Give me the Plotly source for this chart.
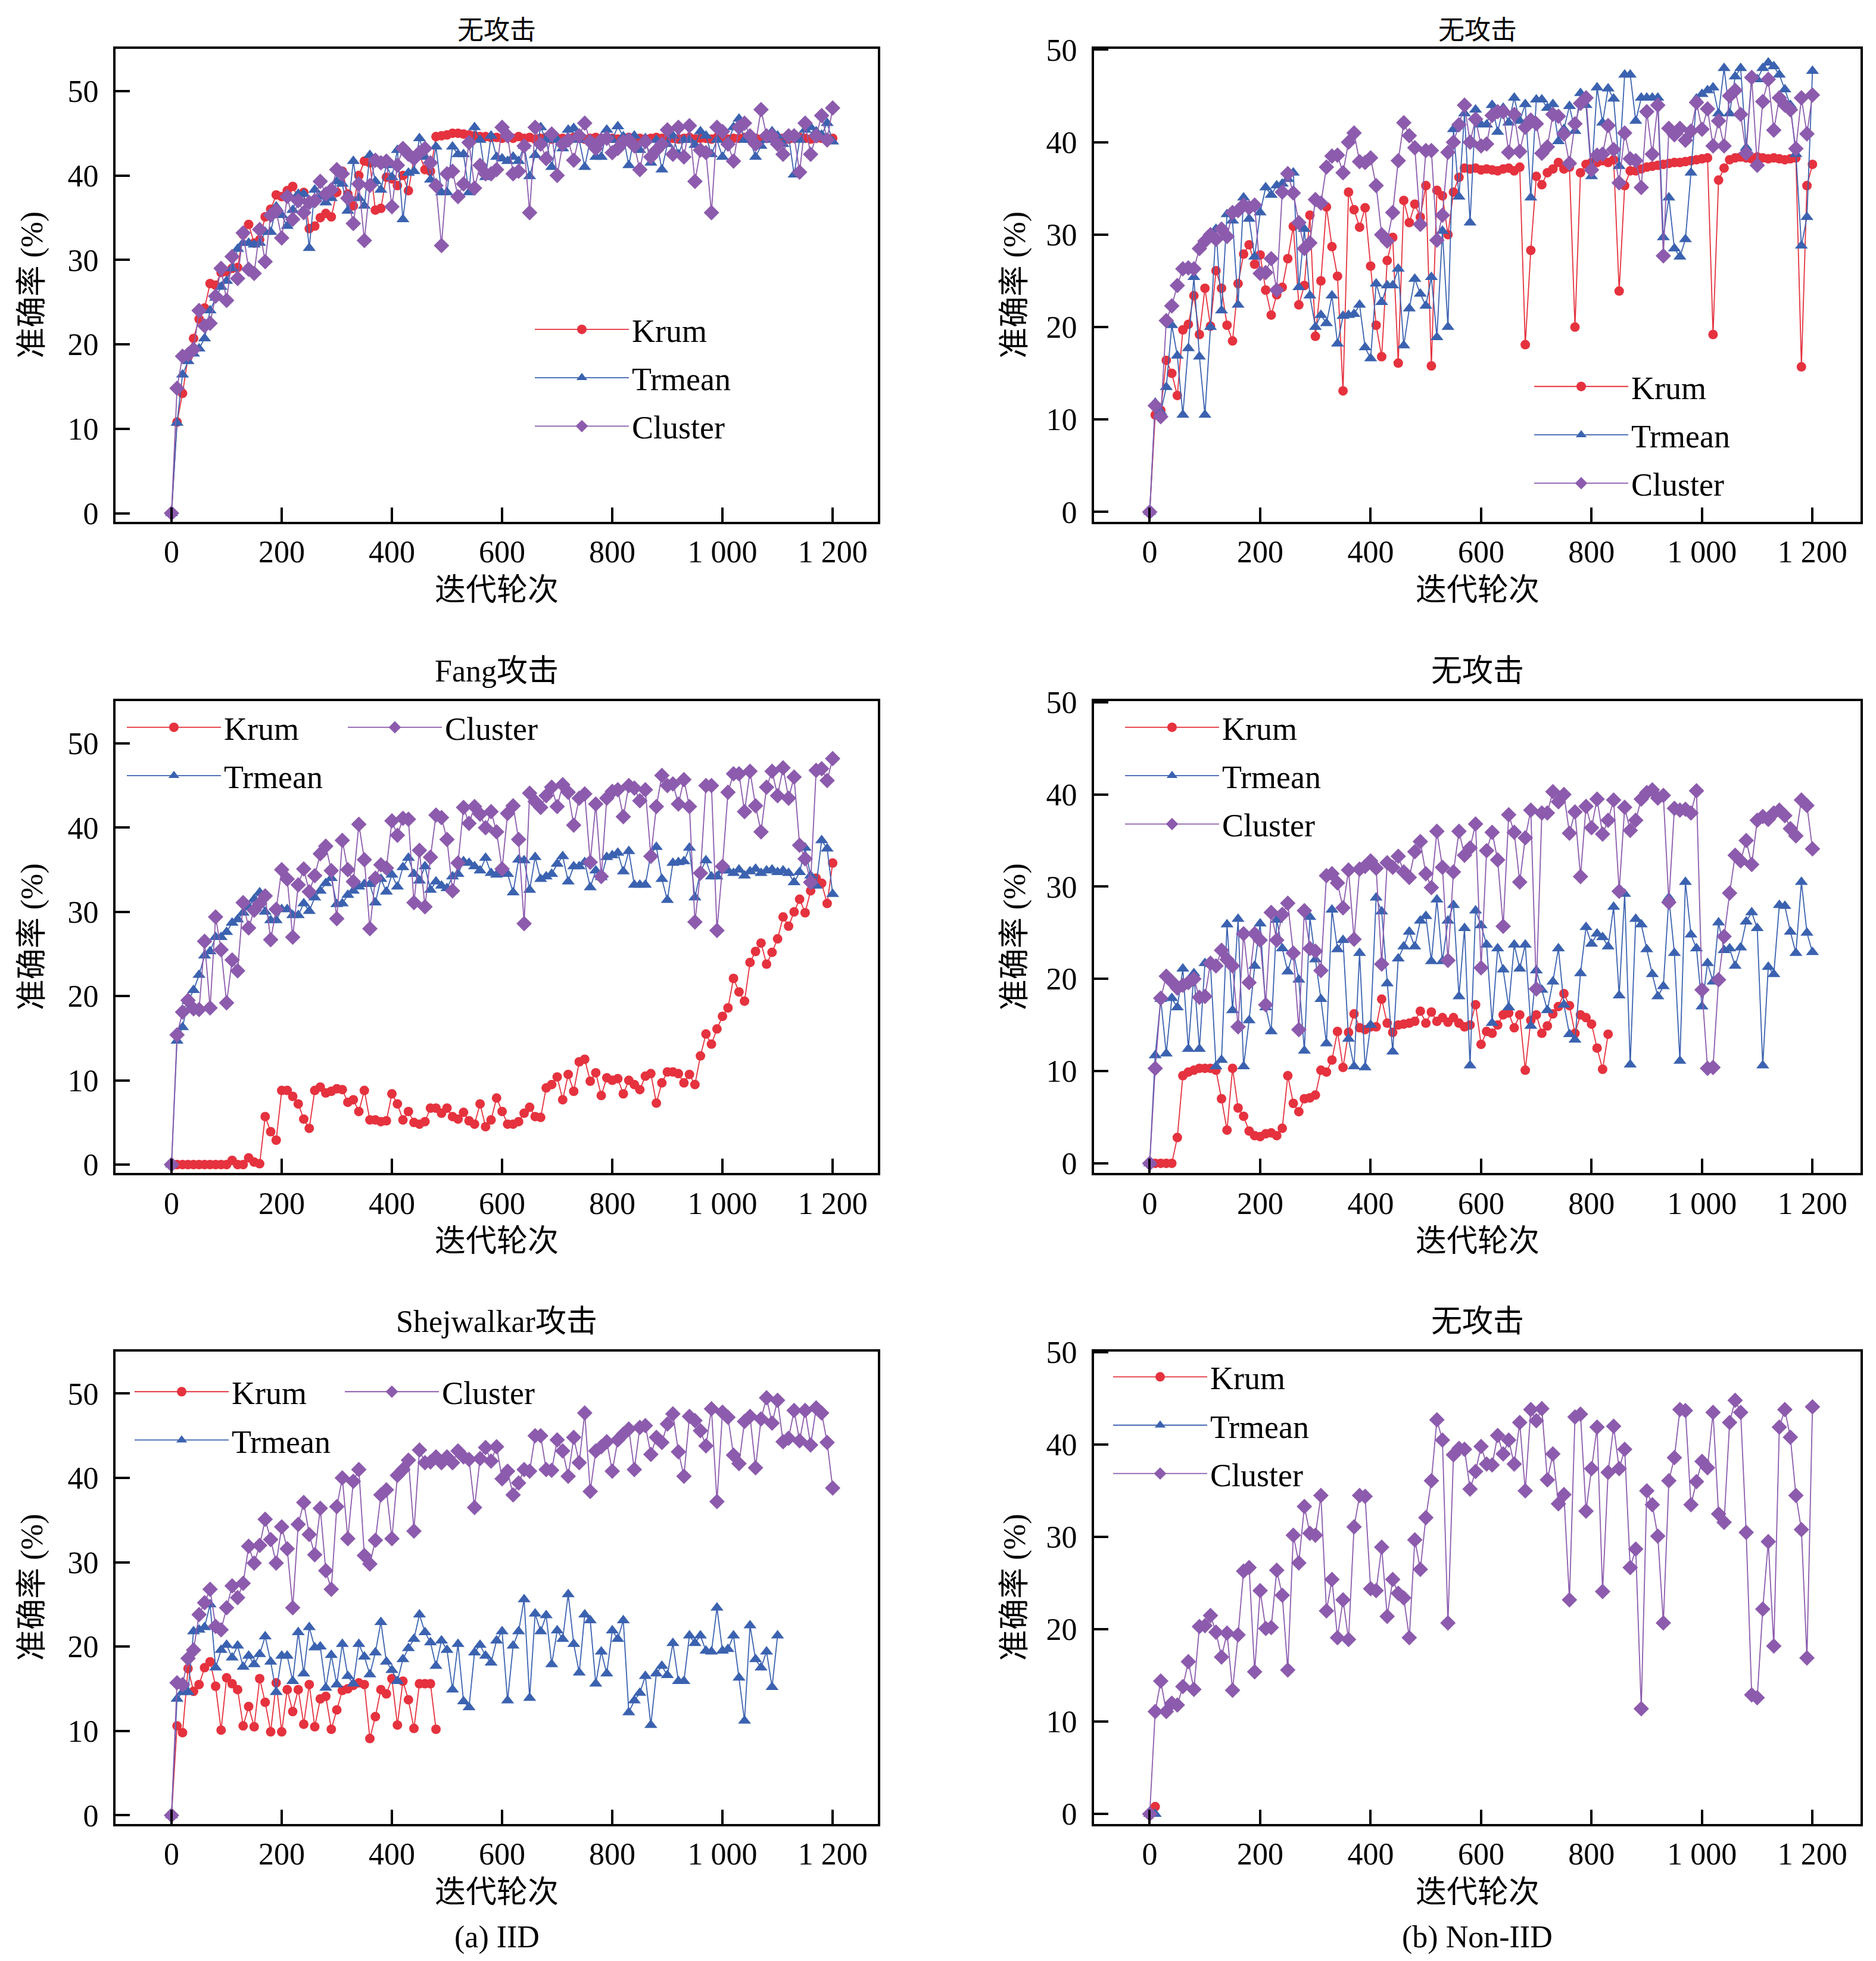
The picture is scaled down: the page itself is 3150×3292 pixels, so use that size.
import plotly.graph_objects as go

W, H = 3150, 3292
# the photographed page puts the figure ~31 px lower and squeezes it a little
# vertically; positions below are given in reference pixels and mapped back
OFFX, OFFY, SY = 4, 31, 0.989

# iteration axis, one point every 10 rounds
x_all = list(range(0, 1201, 10))
x_short = [0, 10]

# (a) IID - no attack
krum_a1 = [0, 10.8, 14.2, 18.5, 20.7, 23.0, 24.3, 27.2, 27.0, 28.5, 28.6,
           29.0, 29.1, 33.0, 34.2, 32.0, 32.4, 35.1, 36.0, 37.7, 37.5,
           38.2, 38.7, 37.3, 38.0, 33.7, 34.0, 35.0, 35.5, 35.1, 38.0,
           40.5, 37.8, 36.4, 40.0, 41.7, 41.5, 35.9, 36.1, 39.8, 39.6,
           38.8, 40.0, 38.2, 42.0, 42.5, 40.7, 40.5, 44.6, 44.7, 44.8,
           45.0, 45.0, 44.9, 44.8, 44.7, 44.6, 44.6, 44.5, 44.5, 44.4,
           44.5, 44.4, 44.6, 44.4, 44.5, 44.3, 44.4, 44.5, 44.3, 44.4,
           44.4, 44.3, 44.5, 44.4, 44.3, 44.4, 44.5, 44.3, 44.4, 44.4,
           44.3, 44.4, 44.5, 44.3, 44.4, 44.3, 44.4, 44.5, 44.4, 44.3,
           44.4, 44.3, 44.4, 44.5, 44.3, 44.4, 44.4, 44.3, 44.5, 44.4,
           44.3, 44.4, 44.4, 44.5, 44.3, 44.4, 44.3, 44.4, 44.4, 44.3,
           44.4, 44.3, 44.4, 44.5, 44.4, 44.3, 44.4, 44.4, 44.3, 44.4]
trmean_a1 = [0, 10.7, 16.4, 18.0, 18.9, 19.5, 20.7, 24.0, 25.5, 26.8, 27.5,
             29.0, 31.3, 32.0, 32.0, 31.8, 32.0, 33.3, 33.3, 36.3, 35.3,
             34.0, 35.9, 37.8, 37.8, 31.4, 38.3, 37.5, 36.8, 37.3, 39.3,
             39.0, 35.8, 41.7, 37.3, 36.4, 42.4, 39.3, 38.3, 41.2, 39.8,
             43.0, 34.8, 40.3, 40.5, 44.4, 42.2, 39.5, 43.4, 38.0, 38.0,
             43.4, 42.5, 42.5, 38.0, 45.7, 44.2, 39.8, 44.7, 42.2, 42.0,
             41.7, 42.2, 41.7, 43.5, 39.9, 42.4, 45.7, 44.2, 41.0, 44.2,
             43.2, 45.4, 45.6, 44.2, 41.0, 44.2, 42.2, 42.2, 45.4, 44.2,
             45.8, 44.6, 41.2, 44.7, 43.0, 44.4, 41.5, 44.2, 40.7, 43.7,
             44.7, 42.5, 44.2, 44.2, 43.6, 45.2, 44.7, 42.5, 44.2, 42.2,
             44.0, 45.7, 46.7, 44.2, 44.2, 42.2, 43.5, 44.2, 45.2, 44.7,
             43.7, 44.7, 40.1, 44.2, 45.4, 45.7, 45.2, 44.8, 46.2, 44.0]
cluster_a1 = [0, 14.8, 18.6, 18.8, 19.4, 24.0, 22.2, 22.5, 25.7, 29.0, 25.2,
              30.4, 27.8, 33.2, 28.9, 28.4, 33.6, 29.8, 35.3, 35.8, 32.6,
              37.5, 34.8, 37.0, 35.6, 36.8, 37.0, 39.3, 37.8, 38.3, 40.7,
              40.2, 37.3, 34.3, 39.0, 32.3, 38.8, 41.8, 41.5, 41.7, 36.3,
              41.2, 43.2, 42.5, 42.0, 42.7, 43.2, 41.5, 38.8, 31.7, 40.2,
              40.5, 37.5, 39.0, 43.9, 38.5, 41.2, 40.2, 40.2, 40.7, 45.7,
              44.7, 40.2, 40.5, 43.5, 35.6, 45.7, 43.7, 42.0, 44.9, 40.0,
              43.7, 44.2, 41.8, 44.7, 46.2, 44.0, 43.2, 44.2, 44.4, 42.7,
              43.2, 44.0, 44.2, 43.5, 40.7, 44.0, 42.2, 43.0, 43.7, 45.4,
              42.5, 45.7, 42.2, 45.9, 39.3, 43.0, 42.7, 35.6, 45.7, 45.2,
              43.7, 41.7, 45.7, 46.2, 44.7, 43.7, 47.8, 44.7, 44.7, 43.7,
              42.5, 44.7, 44.7, 40.4, 46.2, 42.5, 44.7, 47.1, 44.2, 48.0]

# (b) Non-IID - no attack
krum_b1 = [0, 10.5, 11.0, 16.4, 15.0, 12.6, 19.7, 20.3, 23.4, 19.2, 24.2,
           20.1, 26.1, 24.2, 20.2, 18.5, 24.7, 27.9, 28.9, 26.8, 27.8,
           24.0, 21.3, 23.5, 24.3, 27.4, 30.9, 22.4, 24.5, 32.1, 19.0,
           25.0, 33.0, 28.7, 25.5, 13.1, 34.6, 32.7, 30.8, 32.9, 26.6,
           20.2, 16.8, 27.2, 29.7, 16.1, 33.7, 31.3, 33.3, 31.9, 35.3,
           15.8, 34.8, 34.2, 30.0, 34.6, 36.2, 37.2, 37.1, 37.2, 37.0,
           37.1, 37.0, 36.9, 37.1, 37.2, 36.9, 37.3, 18.1, 28.3, 36.3,
           35.4, 36.7, 37.1, 37.8, 37.1, 37.3, 20.0, 36.7, 37.6, 37.8,
           37.8, 38.0, 37.8, 38.1, 23.9, 35.3, 36.9, 36.9, 37.1, 37.3,
           37.4, 37.5, 37.6, 37.7, 37.8, 37.8, 37.9, 38.0, 38.1, 38.2,
           38.3, 19.2, 35.9, 37.2, 38.1, 38.3, 38.4, 38.3, 38.2, 38.4,
           38.3, 38.2, 38.3, 38.2, 38.1, 38.2, 38.3, 15.7, 35.3, 37.6]
trmean_b1 = [0, 11.8, 10.8, 13.5, 20.2, 16.9, 10.5, 17.7, 25.4, 16.8, 10.5,
             20.0, 30.6, 21.8, 32.2, 31.5, 22.4, 34.0, 31.7, 27.6, 32.4,
             35.1, 34.3, 35.3, 35.5, 36.0, 36.7, 24.3, 30.6, 23.4, 20.0,
             21.3, 20.4, 23.4, 18.2, 21.2, 21.3, 21.4, 22.4, 17.8, 16.6,
             24.7, 22.7, 24.5, 24.5, 26.3, 18.0, 22.0, 25.2, 23.6, 22.3,
             25.4, 18.9, 30.4, 20.0, 41.4, 34.1, 43.1, 31.3, 43.5, 41.9,
             41.9, 44.0, 41.1, 43.7, 42.1, 44.8, 42.3, 44.1, 34.0, 44.6,
             44.6, 43.7, 44.1, 40.1, 41.4, 43.9, 41.2, 45.3, 44.0, 36.3,
             45.9, 42.1, 45.8, 44.7, 37.4, 47.3, 47.3, 42.3, 44.8, 44.8,
             44.8, 44.8, 29.7, 34.0, 28.5, 27.6, 29.5, 36.7, 44.7, 45.2,
             45.6, 45.9, 43.1, 48.0, 43.1, 47.1, 48.0, 39.4, 47.1, 46.8,
             48.0, 48.6, 48.2, 47.3, 45.7, 44.0, 38.7, 28.8, 31.9, 47.7]
cluster_b1 = [0, 11.5, 10.3, 20.7, 22.3, 24.5, 26.3, 26.4, 26.3, 28.5, 29.3,
              30.0, 29.5, 30.6, 29.8, 32.4, 32.6, 33.2, 32.9, 33.2, 25.8,
              25.9, 27.4, 24.0, 34.6, 36.6, 34.5, 31.3, 28.5, 29.1, 33.8,
              33.4, 37.3, 38.5, 38.6, 36.7, 40.0, 41.0, 37.9, 37.8, 38.3,
              35.3, 30.0, 29.3, 32.4, 38.0, 42.1, 40.7, 39.4, 31.1, 39.1,
              39.1, 29.4, 32.1, 38.9, 40.0, 41.9, 44.0, 40.0, 42.5, 39.6,
              39.8, 42.9, 43.3, 43.3, 38.9, 43.0, 39.0, 41.6, 42.4, 42.0,
              38.8, 39.5, 43.0, 42.8, 40.9, 37.7, 42.0, 44.2, 44.8, 37.0,
              38.6, 38.7, 41.8, 39.2, 35.6, 41.0, 38.2, 38.0, 35.1, 43.3,
              38.7, 44.0, 27.7, 41.5, 40.8, 41.5, 40.2, 41.2, 44.3, 41.4,
              43.6, 39.6, 42.3, 39.6, 45.0, 45.6, 43.0, 38.8, 47.0, 37.5,
              44.4, 46.8, 41.3, 44.8, 44.0, 43.5, 39.3, 44.8, 40.9, 45.1]

# (a) IID - Fang attack
krum_a2 = [0, 0, 0, 0, 0, 0, 0, 0, 0, 0, 0,
           0.5, 0, 0, 0.8, 0.3, 0.1, 5.7, 3.9, 2.9, 8.8,
           8.8, 8.1, 7.2, 5.4, 4.3, 8.8, 9.2, 8.5, 8.7, 9.0,
           8.9, 7.4, 7.7, 6.3, 8.8, 5.3, 5.3, 5.1, 5.2, 8.4,
           7.2, 5.3, 6.3, 5.0, 4.8, 5.1, 6.7, 6.7, 6.1, 6.7,
           5.7, 5.4, 6.2, 5.2, 4.8, 7.2, 4.5, 5.3, 7.9, 6.3,
           4.8, 4.8, 5.1, 6.1, 6.8, 5.7, 5.6, 9.1, 9.5, 10.4,
           7.7, 10.7, 8.7, 12.2, 12.5, 9.9, 10.9, 8.2, 10.3, 10.0,
           10.2, 8.4, 10.0, 9.5, 8.9, 10.5, 10.8, 7.3, 9.7, 11.0,
           11.0, 10.8, 9.7, 10.7, 9.5, 12.9, 15.5, 14.3, 16.1, 17.6,
           18.6, 22.1, 20.5, 19.4, 24.0, 25.3, 26.3, 23.8, 25.2, 26.8,
           29.4, 28.3, 30.0, 31.5, 29.9, 32.5, 34.0, 33.4, 31.0, 35.8]
trmean_a2 = [0, 14.7, 16.3, 19.4, 20.7, 22.5, 24.8, 25.3, 27.0, 27.0, 27.6,
             28.7, 29.1, 29.9, 30.6, 31.5, 32.3, 30.0, 29.0, 29.0, 30.3,
             30.3, 29.6, 29.6, 31.0, 30.1, 31.7, 32.5, 33.4, 34.0, 30.9,
             31.0, 32.0, 32.5, 33.0, 33.3, 33.3, 31.1, 33.9, 32.4, 34.4,
             33.0, 35.3, 36.4, 34.5, 33.7, 35.4, 32.6, 33.6, 33.1, 32.8,
             34.2, 34.5, 36.0, 35.8, 35.4, 34.9, 36.4, 34.6, 34.4, 35.2,
             34.5, 32.3, 36.2, 36.1, 32.6, 36.5, 33.9, 34.2, 34.5, 35.7,
             36.6, 33.6, 35.4, 35.4, 35.9, 32.9, 34.9, 34.1, 36.5, 36.7,
             37.0, 34.8, 37.2, 33.2, 33.2, 33.2, 36.9, 37.7, 33.9, 31.4,
             35.8, 35.9, 36.0, 37.6, 31.7, 34.8, 36.1, 34.2, 34.2, 34.9,
             34.9, 34.6, 35.0, 34.3, 34.8, 35.1, 34.6, 34.9, 35.0, 34.7,
             34.9, 34.6, 33.5, 34.7, 37.6, 34.3, 33.1, 38.5, 37.5, 32.1]
cluster_a2 = [0, 15.4, 18.1, 19.5, 18.5, 18.4, 26.5, 18.6, 29.4, 25.5, 19.2,
              24.3, 23.0, 31.1, 28.1, 30.2, 31.0, 31.9, 26.7, 30.3, 35.0,
              33.9, 27.0, 33.2, 35.1, 32.4, 34.3, 36.9, 37.8, 34.9, 29.2,
              38.5, 35.0, 33.6, 40.4, 36.2, 28.0, 34.0, 35.6, 35.2, 40.8,
              39.1, 41.1, 41.0, 31.1, 37.3, 30.6, 36.5, 41.5, 41.2, 38.6,
              32.5, 35.8, 42.4, 40.5, 42.5, 41.6, 40.0, 41.9, 39.5, 35.1,
              41.7, 42.6, 38.6, 28.6, 44.1, 43.1, 42.4, 43.8, 44.8, 42.5,
              45.1, 44.2, 40.3, 43.5, 44.0, 35.9, 42.8, 34.2, 43.5, 44.3,
              44.5, 41.3, 45.0, 44.7, 43.2, 44.5, 36.6, 42.5, 46.2, 45.0,
              45.2, 42.8, 45.7, 42.5, 28.8, 34.6, 45.0, 45.0, 27.8, 35.4,
              44.2, 46.4, 46.4, 41.9, 46.7, 42.6, 39.5, 44.8, 46.7, 43.8,
              47.1, 43.5, 46.0, 37.9, 36.3, 33.5, 46.8, 47.0, 45.6, 48.2]

# (b) Non-IID - no attack, second run
krum_b2 = [0, 0, 0, 0, 0, 2.8, 9.5, 9.9, 10.1, 10.3, 10.3,
           10.3, 10.1, 7.0, 3.6, 10.3, 6.0, 5.1, 3.5, 3.0, 2.9,
           3.2, 3.3, 3.0, 3.8, 9.5, 6.5, 5.6, 7.0, 7.1, 7.4,
           10.1, 9.9, 11.2, 14.3, 10.4, 14.2, 16.2, 14.7, 14.5, 14.8,
           14.8, 17.8, 15.2, 14.2, 15.0, 15.1, 15.2, 15.4, 16.5, 15.2,
           16.4, 15.4, 15.8, 15.3, 15.8, 15.2, 14.8, 15.0, 17.2, 12.9,
           14.3, 14.1, 15.0, 16.1, 16.3, 14.7, 16.1, 10.1, 15.5, 16.1,
           14.1, 14.9, 16.2, 17.0, 18.4, 17.1, 14.1, 16.1, 15.8, 15.1,
           12.5, 10.2, 14.0] + [None] * 37
trmean_b2 = [0, 11.7, 17.8, 11.9, 17.9, 16.9, 21.1, 12.4, 20.6, 12.4, 21.7,
             21.6, 10.5, 11.2, 25.9, 16.6, 26.5, 10.5, 15.5, 21.4, 26.0,
             16.9, 14.3, 26.4, 23.3, 20.8, 23.0, 19.9, 12.2, 26.7, 22.1,
             17.8, 13.0, 27.5, 23.2, 24.2, 13.5, 10.5, 22.8, 10.4, 15.0,
             28.8, 27.3, 19.5, 12.1, 22.2, 23.5, 25.1, 23.5, 26.3, 26.8,
             21.9, 28.6, 21.9, 26.3, 28.0, 18.1, 25.5, 10.6, 27.4, 25.8,
             23.7, 15.2, 23.3, 21.0, 16.9, 23.7, 21.1, 23.7, 14.9, 20.9,
             18.8, 16.6, 19.7, 23.3, 17.2, 14.0, 13.4, 20.6, 25.6, 23.8,
             24.9, 24.5, 23.5, 27.8, 18.2, 29.2, 10.7, 26.5, 25.9, 23.2,
             20.5, 18.1, 19.2, 28.8, 22.8, 11.1, 30.5, 24.8, 23.3, 17.0,
             21.7, 19.7, 26.1, 23.1, 23.3, 21.4, 23.4, 26.2, 27.2, 25.5,
             10.6, 21.3, 20.5, 28.0, 27.9, 25.1, 22.8, 30.5, 25.0, 22.9]
cluster_b2 = [0, 10.3, 17.9, 20.3, 19.7, 19.0, 19.3, 19.6, 20.0, 18.0, 18.1,
              21.7, 21.4, 23.1, 22.1, 21.4, 14.8, 24.9, 19.6, 24.9, 24.2,
              17.2, 27.2, 24.2, 27.0, 28.2, 22.8, 14.5, 27.4, 23.3, 23.0,
              20.9, 31.2, 31.4, 30.4, 27.7, 31.8, 24.3, 31.9, 32.2, 32.8,
              32.0, 21.6, 32.6, 32.1, 33.3, 31.6, 31.0, 33.8, 34.9, 31.4,
              29.9, 36.0, 32.1, 22.0, 31.6, 36.0, 33.4, 34.2, 36.8, 21.2,
              33.9, 35.9, 32.9, 25.7, 37.8, 35.9, 30.5, 35.3, 38.3, 18.9,
              38.0, 38.0, 40.3, 39.2, 40.0, 35.8, 38.1, 31.1, 38.7, 36.4,
              39.5, 35.7, 37.2, 39.4, 29.5, 38.6, 36.1, 37.2, 39.5, 40.2,
              40.5, 39.6, 39.9, 28.3, 38.5, 38.3, 38.4, 38.0, 40.4, 18.8,
              10.3, 10.4, 19.9, 24.6, 29.3, 33.4, 32.8, 35.0, 32.4, 37.2,
              37.6, 37.3, 38.0, 38.3, 37.7, 36.3, 35.5, 39.4, 38.8, 34.1]

# (a) IID - Shejwalkar attack
krum_a3 = [0, 10.6, 9.8, 17.4, 14.7, 15.5, 17.5, 18.2, 15.3, 10.1, 16.3,
           15.6, 14.9, 10.6, 12.9, 10.5, 16.2, 13.4, 9.9, 15.7, 9.9,
           14.9, 12.3, 14.9, 10.8, 15.5, 10.5, 13.8, 14.1, 10.2, 12.5,
           14.8, 15.0, 15.4, 15.7, 15.5, 9.1, 11.7, 14.9, 14.4, 16.2,
           10.7, 15.9, 13.7, 10.3, 15.6, 15.6, 15.6, 10.2] + [None] * 72
trmean_a3 = [0, 13.8, 14.6, 14.6, 21.8, 22.0, 22.3, 25.0, 17.5, 19.6, 20.2,
             18.7, 20.1, 17.6, 18.9, 17.9, 19.1, 21.2, 18.2, 14.6, 18.9,
             18.9, 15.9, 21.7, 16.8, 22.3, 19.9, 20.0, 15.1, 19.0, 15.5,
             20.3, 16.5, 15.6, 20.3, 18.8, 16.7, 19.3, 22.9, 18.2, 17.2,
             15.9, 18.5, 19.8, 20.9, 23.8, 21.7, 20.5, 17.7, 20.7, 19.6,
             14.9, 20.3, 13.5, 12.8, 19.3, 20.2, 18.9, 18.1, 20.7, 21.8,
             13.6, 20.1, 21.8, 25.6, 13.9, 23.9, 21.8, 23.7, 17.9, 21.9,
             20.9, 26.2, 20.3, 16.9, 23.8, 23.1, 15.6, 19.4, 16.8, 21.9,
             20.9, 23.1, 12.2, 13.6, 14.5, 16.5, 10.7, 16.8, 17.7, 16.6,
             20.4, 15.9, 15.9, 21.3, 20.4, 21.3, 19.5, 19.4, 24.6, 19.5,
             19.7, 21.3, 16.3, 11.2, 22.5, 18.5, 17.5, 19.4, 15.2, 21.3] + [None] * 10
cluster_a3 = [0, 15.7, 15.5, 18.6, 19.6, 23.8, 25.2, 26.8, 22.4, 22.0, 24.6,
              27.2, 25.8, 27.5, 31.9, 29.9, 32.0, 35.1, 32.7, 29.9, 34.2,
              31.6, 24.6, 34.5, 37.1, 33.3, 30.9, 36.4, 29.0, 26.8, 36.6,
              40.0, 32.8, 39.6, 41.0, 30.8, 29.8, 32.6, 38.0, 38.6, 32.8,
              40.3, 41.0, 42.1, 33.7, 43.3, 41.8, 41.9, 42.5, 41.8, 42.5,
              41.8, 43.2, 42.5, 42.2, 36.5, 42.3, 43.6, 42.0, 43.7, 39.9,
              40.8, 38.0, 39.4, 41.0, 40.8, 45.0, 45.0, 41.0, 40.9, 44.5,
              43.2, 40.2, 44.8, 41.8, 47.7, 38.4, 43.2, 43.7, 44.3, 40.8,
              44.5, 45.2, 45.8, 41.0, 46.0, 46.2, 42.8, 44.8, 44.2, 46.4,
              47.6, 43.1, 40.2, 47.3, 46.8, 45.6, 43.8, 48.2, 37.2, 47.8,
              47.2, 42.7, 41.7, 46.7, 47.3, 41.2, 47.0, 49.5, 46.5, 49.2,
              44.3, 44.7, 48.0, 44.4, 48.0, 43.9, 48.3, 47.7, 44.2, 38.8]

# (b) Non-IID - no attack, third run
krum_b3 = [0, 0.8]
trmean_b3 = [0, 0]
cluster_b3 = [0, 11.1, 14.4, 11.1, 12.0, 11.8, 13.8, 16.5, 13.5, 20.3, 20.4,
              21.5, 19.7, 17.0, 19.6, 13.4, 19.4, 26.3, 26.7, 15.4, 24.2,
              20.1, 20.2, 26.4, 23.7, 15.6, 30.2, 27.2, 33.3, 30.4, 30.2,
              34.5, 22.0, 25.4, 19.1, 23.2, 18.9, 31.1, 34.5, 34.4, 24.4,
              24.2, 28.9, 21.4, 25.4, 23.9, 23.4, 19.1, 29.7, 26.5, 32.1,
              36.1, 42.7, 40.5, 20.7, 38.9, 39.6, 39.5, 35.2, 37.1, 39.8,
              37.9, 37.8, 41.0, 39.0, 40.5, 37.9, 42.4, 35.0, 43.8, 42.6,
              43.9, 36.2, 39.0, 33.6, 34.6, 23.2, 43.0, 43.3, 32.8, 37.4,
              41.9, 24.1, 37.0, 42.0, 37.4, 39.5, 26.7, 28.7, 11.4, 35.0,
              33.5, 30.1, 20.7, 36.1, 38.6, 43.8, 43.7, 33.5, 36.0, 38.2,
              37.5, 43.5, 32.5, 31.6, 42.4, 44.8, 43.5, 30.5, 12.9, 12.6,
              22.2, 29.5, 18.2, 41.9, 43.8, 40.8, 34.5, 30.8, 16.9, 44.1]

titles = ["无攻击", "无攻击", "Fang攻击", "无攻击", "Shejwalkar攻击", "无攻击"]
names = ["Krum", "Trmean", "Cluster"]
tick_vals = [0, 200, 400, 600, 800, 1000, 1200]
tick_text = ["0", "200", "400", "600", "800", "1 000", "1 200"]

FONT = "Liberation Serif, Noto Sans CJK SC"
RED, BLUE, PURPLE = "#E5323E", "#3B62B0", "#8C5BAD"


def fx(px):
    return (px - OFFX) / W


def fy(py):
    return 1 - ((py - OFFY) / SY) / H


# panel boxes in reference pixels: (left, right), (top, bottom)
cols = [(190, 1470), (1833, 3120)]
rows = [(79, 874), (1176, 1969), (2269, 3063)]

panels = [
    (x_all, krum_a1, x_all, trmean_a1, x_all, cluster_a1),
    (x_all, krum_b1, x_all, trmean_b1, x_all, cluster_b1),
    (x_all, krum_a2, x_all, trmean_a2, x_all, cluster_a2),
    (x_all, krum_b2, x_all, trmean_b2, x_all, cluster_b2),
    (x_all, krum_a3, x_all, trmean_a3, x_all, cluster_a3),
    (x_short, krum_b3, x_short, trmean_b3, x_all, cluster_b3),
]

# legend id for each trace of each panel
legend_of = [
    ["legend", "legend", "legend"],
    ["legend2", "legend2", "legend2"],
    ["legend3", "legend3", "legend4"],
    ["legend5", "legend5", "legend5"],
    ["legend6", "legend6", "legend7"],
    ["legend8", "legend8", "legend8"],
]

styles = [
    dict(color=RED, symbol="circle", size=16),
    dict(color=BLUE, symbol="triangle-up", size=19),
    dict(color=PURPLE, symbol="diamond", size=20),
]

fig = go.Figure()
layout = dict(
    width=W, height=H,
    margin=dict(l=0, r=0, t=0, b=0),
    paper_bgcolor="white", plot_bgcolor="white",
    font=dict(family=FONT, size=52, color="black"),
    annotations=[],
)

for i, p in enumerate(panels):
    r, c = i // 2, i % 2
    ax = "" if i == 0 else str(i + 1)
    left, right = cols[c]
    top, bottom = rows[r]
    xr = [-101.6, 1282] if c == 0 else [-100.8, 1287]
    yr = [-1.0, 55.0] if c == 0 else [-1.05, 50.1]

    layout["xaxis" + ax] = dict(
        domain=[fx(left), fx(right)], anchor="y" + ax, range=xr,
        tickvals=tick_vals, ticktext=tick_text,
        ticks="inside", ticklen=24, tickwidth=4, tickcolor="black",
        showline=True, linewidth=4, linecolor="black", mirror=True,
        showgrid=False, zeroline=False, ticklabelstandoff=2,
        tickfont=dict(size=52),
    )
    layout["yaxis" + ax] = dict(
        domain=[fy(bottom), fy(top)], anchor="x" + ax, range=yr,
        tickvals=[0, 10, 20, 30, 40, 50],
        ticks="inside", ticklen=24, tickwidth=4, tickcolor="black",
        showline=True, linewidth=4, linecolor="black", mirror=True,
        showgrid=False, zeroline=False, ticklabelstandoff=14,
        tickfont=dict(size=52),
    )

    for k in range(3):
        xs, ys = p[2 * k], p[2 * k + 1]
        st = styles[k]
        fig.add_trace(go.Scatter(
            x=xs, y=ys, name=names[k], mode="lines+markers",
            line=dict(color=st["color"], width=1.8),
            marker=dict(color=st["color"], symbol=st["symbol"], size=st["size"]),
            xaxis="x" + ax, yaxis="y" + ax,
            legend=legend_of[i][k], legendgroup="g%d_%d" % (i, k),
            connectgaps=False,
        ))

    cx = (left + right) / 2
    if r == 0:
        # top row titles: as high as the figure allows, kept clear of the frame
        tpos = dict(y=1 - 18 / H, yanchor="middle", font=dict(size=44))
    else:
        title_y = {1: 1125, 2: 2219}[r]
        tpos = dict(y=fy(title_y), yanchor="middle", font=dict(size=52))
    layout["annotations"].append(dict(
        text=titles[i], x=fx(cx), xref="paper", yref="paper",
        showarrow=False, xanchor="center", **tpos))
    layout["annotations"].append(dict(
        text="迭代轮次", x=fx(cx), y=fy(bottom + 115), xref="paper", yref="paper",
        showarrow=False, xanchor="center", yanchor="middle", font=dict(size=52)))
    ytx = 50 if c == 0 else 1700
    layout["annotations"].append(dict(
        text="准确率 (%)", x=fx(ytx), y=fy((top + bottom) / 2), xref="paper", yref="paper",
        showarrow=False, xanchor="center", yanchor="middle", textangle=-90,
        font=dict(size=52)))

layout["annotations"].append(dict(
    text="(a) IID", x=fx(830), y=fy(3254), xref="paper", yref="paper",
    showarrow=False, xanchor="center", yanchor="middle", font=dict(size=52)))
layout["annotations"].append(dict(
    text="(b) Non-IID", x=fx(2476), y=fy(3254), xref="paper", yref="paper",
    showarrow=False, xanchor="center", yanchor="middle", font=dict(size=52)))

# legend positions (left of line sample, centre of first row) in reference pixels
legend_pos = {
    "legend": (902, 554),
    "legend2": (2580, 650),
    "legend3": (217, 1223),
    "legend4": (588, 1223),
    "legend5": (1893, 1223),
    "legend6": (230, 2340),
    "legend7": (583, 2340),
    "legend8": (1873, 2315),
}
for key, (lx, ly) in legend_pos.items():
    layout[key] = dict(
        x=fx(lx - 13), y=fy(ly - 45), xanchor="left", yanchor="top",
        bgcolor="rgba(0,0,0,0)", borderwidth=0,
        font=dict(family=FONT, size=54), itemwidth=158,
        traceorder="grouped", tracegroupgap=8,
    )

fig.update_layout(**layout)
fig.write_html("out.html")
